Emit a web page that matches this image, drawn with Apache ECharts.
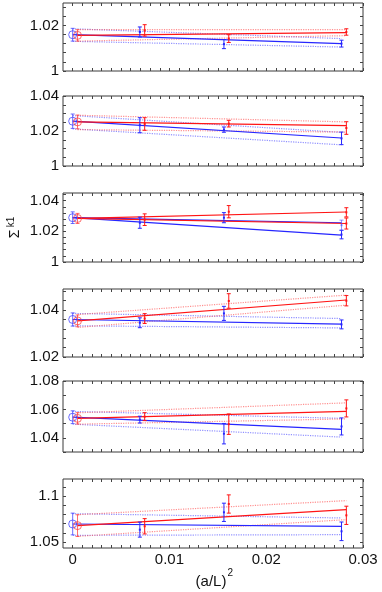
<!DOCTYPE html>
<html><head><meta charset="utf-8">
<script src="https://cdn.jsdelivr.net/npm/echarts@6/dist/echarts.min.js"></script>
<style>html,body{margin:0;padding:0;background:#fff}#c{width:382px;height:592px}</style>
</head><body><div id="c"></div>
<script>
// ---- data ----
const xTickLabels = [0, 0.01, 0.02, 0.03];
const blueX = [0.00694, 0.01563, 0.02778];
const redX = [0.00744, 0.01613, 0.02828];
const blueX0 = 0;
const redX0 = 0.0005;

// y-axis ranges and tick labels per panel
const yMin = [1, 1, 1, 1.02, 1.03, 1.0434];
const yMax = [1.0298, 1.04, 1.045, 1.049, 1.08, 1.119];
const yTickLabels = [[1, 1.02], [1, 1.02, 1.04], [1, 1.02, 1.04], [1.02, 1.04], [1.04, 1.06, 1.08], [1.05, 1.1]];
const yMinorStep = [0.004, 0.005, 0.004, 0.004, 0.01, 0.01];

// data points per panel
const blueY = [[1.0171, 1.0118, 1.0120], [1.0233, 1.0208, 1.0158], [1.0256, 1.0289, 1.0179], [1.0346, 1.0386, 1.0339], [1.0528, 1.0429, 1.0480], [1.0635, 1.0825, 1.0617]];
const blueErr = [[0.0022, 0.0020, 0.0015], [0.0043, 0.0015, 0.0036], [0.0036, 0.0033, 0.0028], [0.0021, 0.0030, 0.0019], [0.0024, 0.0072, 0.0060], [0.0082, 0.0100, 0.0102]];
const redY = [[1.0178, 1.0142, 1.0171], [1.0240, 1.0242, 1.0217], [1.0276, 1.0328, 1.0324], [1.0364, 1.0439, 1.0440], [1.0549, 1.0496, 1.0607], [1.0672, 1.0916, 1.0792]];
const redErr = [[0.0025, 0.0017, 0.0014], [0.0036, 0.0019, 0.0036], [0.0038, 0.0040, 0.0030], [0.0021, 0.0031, 0.0022], [0.0028, 0.0072, 0.0060], [0.0084, 0.0100, 0.0100]];

// extrapolated continuum values (value, error)
const blueExt = [[1.0159, 0.0028], [1.0256, 0.0041], [1.0289, 0.0038], [1.0360, 0.0028], [1.0545, 0.0045], [1.0697, 0.0119]];
const redExt = [[1.0156, 0.0025], [1.0252, 0.0039], [1.0284, 0.0033], [1.0354, 0.0025], [1.0537, 0.0040], [1.0679, 0.0119]];

// fit line end values
const blueFitEnd = [1.0120, 1.0160, 1.0175, 1.0340, 1.0460, 1.0672];
const redFitEnd = [1.0168, 1.0231, 1.0326, 1.0443, 1.0586, 1.0854];

// error bands: [upperStart, lowerStart, upperEnd, lowerEnd]
const blueBand = [[1.0185, 1.0130, 1.0142, 1.0105], [1.0288, 1.0212, 1.0192, 1.0121], null, [1.0386, 1.0333, 1.0364, 1.0324], [1.0586, 1.0496, 1.0537, 1.0405], [1.0810, 1.0573, 1.0763, 1.0580]];
const redBand = [[1.0181, 1.0131, 1.0181, 1.0155], [1.0290, 1.0208, 1.0252, 1.0194], null, [1.0381, 1.0326, 1.0464, 1.0421], [1.0576, 1.0496, 1.0646, 1.0533], [1.0799, 1.0562, 1.0953, 1.0745]];

// panel 3 second data set (last point) and its fit end
const p3BlueB = [1.0240, 0.0033];
const p3RedB = [1.0251, 0.0036];
const p3BlueFitBEnd = 1.0256;
const p3RedFitBEnd = 1.0251;

// ---- layout ----
const gridTop = [3, 96, 193, 289, 381, 479];
const gridH = [68, 70, 69, 68, 71, 69];
const BLUE = '#2626ff', RED = '#ff1414';
const BLUE_L = 'rgba(70,70,255,0.6)', RED_L = 'rgba(255,70,70,0.6)';
const FONT = 'Liberation Sans';

function steps(a, b, s) {
  const out = [];
  const n0 = Math.ceil(a / s - 1e-6), n1 = Math.floor(b / s + 1e-6);
  for (let n = n0; n <= n1; n++) out.push(+(n * s).toFixed(6));
  return out;
}
const xMinor = steps(0, 0.03, 0.001);
const fmt = v => String(+v.toFixed(3));

const grids = [], xAxes = [], yAxes = [], series = [];

function errRender(color, kind) {
  return function (params, api) {
    const x = api.value(0), y = api.value(1), e = api.value(2);
    const t = api.coord([x, y + e]), b = api.coord([x, y - e]), c = api.coord([x, y]);
    const st = { stroke: color, lineWidth: 1 };
    const ch = [
      { type: 'line', shape: { x1: t[0], y1: t[1], x2: b[0], y2: b[1] }, style: st },
      { type: 'line', shape: { x1: t[0] - 2, y1: t[1], x2: t[0] + 2, y2: t[1] }, style: st },
      { type: 'line', shape: { x1: b[0] - 2, y1: b[1], x2: b[0] + 2, y2: b[1] }, style: st }
    ];
    if (kind === 'circle') {
      ch.push({ type: 'circle', shape: { cx: c[0], cy: c[1], r: 4 }, style: { stroke: color, fill: 'none', lineWidth: 1 } });
    } else {
      ch.push({ type: 'rect', shape: { x: c[0] - 1, y: c[1] - 1, width: 2, height: 2 }, style: { fill: color } });
    }
    return { type: 'group', children: ch };
  };
}

function addErr(i, data, color, kind) {
  series.push({
    type: 'custom', coordinateSystem: 'cartesian2d', xAxisIndex: 2 * i, yAxisIndex: 2 * i,
    renderItem: errRender(color, kind), data: data, encode: { x: 0, y: 1 }, silent: true, z: 3
  });
}
function addLine(i, pts, color, dotted, w) {
  series.push({
    type: 'line', xAxisIndex: 2 * i, yAxisIndex: 2 * i, data: pts, symbol: 'none', silent: true,
    lineStyle: { color: color, width: w || 1.2, type: dotted ? 'dotted' : 'solid' }, z: dotted ? 1 : 2
  });
}

for (let i = 0; i < 6; i++) {
  grids.push({ left: 63, width: 300, top: gridTop[i], height: gridH[i], show: true, borderColor: '#3a3a3a', borderWidth: 1, backgroundColor: 'transparent' });
  const tickX = { show: true, inside: true, length: 3, lineStyle: { color: '#444' }, customValues: xMinor };
  xAxes.push({
    type: 'value', gridIndex: i, min: -0.001, max: 0.03, position: 'bottom',
    axisLine: { show: false, onZero: false }, splitLine: { show: false }, axisTick: tickX,
    axisLabel: { show: i === 5, customValues: xTickLabels, formatter: fmt, margin: 4, fontFamily: FONT, fontSize: 15, color: '#111' }
  });
  xAxes.push({
    type: 'value', gridIndex: i, min: -0.001, max: 0.03, position: 'top',
    axisLine: { show: false, onZero: false }, splitLine: { show: false }, axisTick: tickX, axisLabel: { show: false }
  });
  const yt = steps(yMin[i], yMax[i], yMinorStep[i]);
  const tickY = { show: true, inside: true, length: 3, lineStyle: { color: '#444' }, customValues: yt };
  yAxes.push({
    type: 'value', gridIndex: i, min: yMin[i], max: yMax[i], position: 'left',
    axisLine: { show: false, onZero: false }, splitLine: { show: false }, axisTick: tickY,
    axisLabel: { show: true, customValues: yTickLabels[i], formatter: fmt, margin: 4, fontFamily: FONT, fontSize: 15, color: '#111' }
  });
  yAxes.push({
    type: 'value', gridIndex: i, min: yMin[i], max: yMax[i], position: 'right',
    axisLine: { show: false, onZero: false }, splitLine: { show: false }, axisTick: tickY, axisLabel: { show: false }
  });

  if (blueBand[i]) {
    const bb = blueBand[i];
    addLine(i, [[blueX0, bb[0]], [blueX[2], bb[2]]], BLUE_L, true);
    addLine(i, [[blueX0, bb[1]], [blueX[2], bb[3]]], BLUE_L, true);
  }
  if (redBand[i]) {
    const rb = redBand[i];
    addLine(i, [[redX0, rb[0]], [redX[2], rb[2]]], RED_L, true);
    addLine(i, [[redX0, rb[1]], [redX[2], rb[3]]], RED_L, true);
  }
  addLine(i, [[blueX0, blueExt[i][0]], [blueX[2], blueFitEnd[i]]], BLUE, false);
  if (i === 2) addLine(i, [[blueX0, blueExt[i][0]], [blueX[2], p3BlueFitBEnd]], BLUE, false);
  addLine(i, [[redX0, redExt[i][0]], [redX[2], redFitEnd[i]]], RED, false);
  if (i === 2) addLine(i, [[redX0, redExt[i][0]], [redX[2], p3RedFitBEnd]], RED, false);

  addErr(i, blueX.map((x, k) => [x, blueY[i][k], blueErr[i][k]]), BLUE, 'dot');
  if (i === 2) addErr(i, [[blueX[2], p3BlueB[0], p3BlueB[1]]], BLUE_L, 'dot');
  addErr(i, [[blueX0, blueExt[i][0], blueExt[i][1]]], 'rgba(60,60,255,0.75)', 'circle');
  addErr(i, redX.map((x, k) => [x, redY[i][k], redErr[i][k]]), RED, 'dot');
  if (i === 2) addErr(i, [[redX[2], p3RedB[0], p3RedB[1]]], RED, 'dot');
  addErr(i, [[redX0, redExt[i][0], redExt[i][1]]], 'rgba(255,60,60,0.75)', 'circle');
}

const chart = echarts.init(document.getElementById('c'), null, { renderer: 'canvas' });
chart.setOption({
  animation: false,
  grid: grids, xAxis: xAxes, yAxis: yAxes, series: series,
  graphic: [
    { type: 'text', x: 15, y: 234, rotation: Math.PI / 2, style: { text: 'Σ', font: '14px "Liberation Sans"', fill: '#111', align: 'center', verticalAlign: 'middle' } },
    { type: 'text', x: 11, y: 222, rotation: Math.PI / 2, style: { text: 'k1', font: '10px "Liberation Sans"', fill: '#111', align: 'center', verticalAlign: 'middle' } },
    { type: 'text', x: 211, y: 582, style: { text: '(a/L)', font: '15px "Liberation Sans"', fill: '#111', align: 'center', verticalAlign: 'middle' } },
    { type: 'text', x: 227.5, y: 573, style: { text: '2', font: '10px "Liberation Sans"', fill: '#111', align: 'left', verticalAlign: 'middle' } }
  ]
});
</script></body></html>
